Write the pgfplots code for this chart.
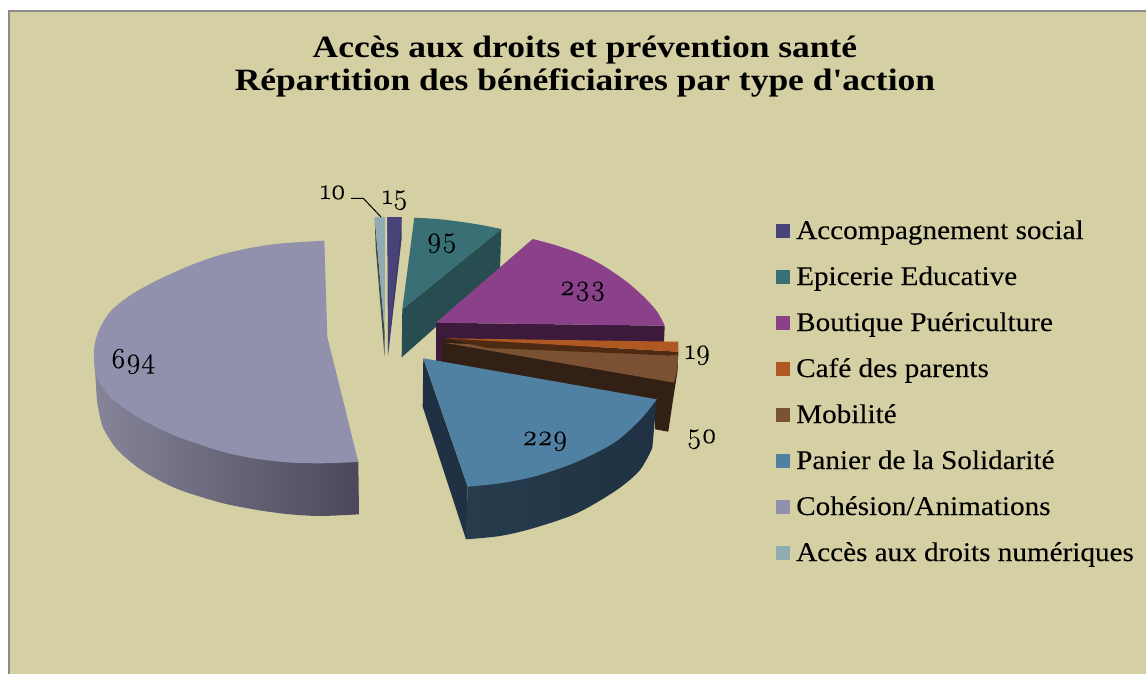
\documentclass[border=0pt]{standalone}
\usepackage{fontspec}
\usepackage{pgfplots}
\pgfplotsset{compat=1.18}
\setmainfont{Liberation Serif}[Ligatures=TeXOff]
\newfontfamily\numf{Latin Modern Roman}[Numbers=OldStyle,FakeBold=0.4]
\newfontfamily\legf{Liberation Serif}[Ligatures=TeXOff,FakeStretch=1.08,FakeBold=0.12]
\newfontfamily\titf{Liberation Serif}[Ligatures=TeXOff,FakeStretch=1.145,BoldFont={Liberation Serif Bold}]
\definecolor{bg}{HTML}{D4D0A4}
\definecolor{frame}{HTML}{8C8C8C}
\definecolor{grayF}{HTML}{9190AD}
\definecolor{grayL}{HTML}{858499}
\definecolor{grayR}{HTML}{4B4859}
\definecolor{blueF}{HTML}{5181A2}
\definecolor{blueD}{HTML}{1F3142}
\definecolor{blueL}{HTML}{263C4C}
\definecolor{tealF}{HTML}{397075}
\definecolor{tealD}{HTML}{284D50}
\definecolor{purpF}{HTML}{8A4189}
\definecolor{purpD}{HTML}{3B1A3B}
\definecolor{oranF}{HTML}{AF5822}
\definecolor{oranD}{HTML}{4F2A12}
\definecolor{browF}{HTML}{7A5233}
\definecolor{browD}{HTML}{312013}
\definecolor{indiF}{HTML}{48447A}
\definecolor{indiD}{HTML}{3F3B6C}
\definecolor{accF}{HTML}{92ABB0}
\definecolor{accD}{HTML}{3E4D4F}
\newcommand\legtxt[2]{\node[anchor=base west,inner sep=0pt,font=\legf\fontsize{27}{30}\selectfont] at (axis cs:796,#1) {#2};}
\newcommand\numtxt[3]{\node[anchor=base,inner sep=0pt,font=\numf\fontsize{29}{32}\selectfont] at (axis cs:#1,#2) {#3};}
\newcommand\legsq[3]{\addplot[fill=#1] coordinates {(776,#2)(790,#2)(790,#3)(776,#3)} --cycle;}
\begin{document}
\begin{tikzpicture}
\begin{axis}[
  width=1146pt,height=674pt,scale only axis,
  xmin=0,xmax=1146,ymin=0,ymax=674,y dir=reverse,
  hide axis,clip=false,
  every axis plot/.append style={draw=none,no markers,line join=round}
]
% page and chart area
\addplot[fill=white] coordinates {(0,0)(1146,0)(1146,674)(0,674)} --cycle;
\addplot[fill=frame] coordinates {(8,10)(1146,10)(1146,674)(8,674)} --cycle;
\addplot[fill=bg] coordinates {(10,12)(1146,12)(1146,674)(10,674)} --cycle;
% Cohesion/Animations 694
\addplot[smooth,left color=grayL,right color=grayR] coordinates {
 (359,514.3)(320,516)(286.7,514)(253.3,509.3)(220,502.5)(180,490)(156.7,479)(136.7,466.7)(116.7,449)(103.3,428.3)(99,412)(96.7,396.7)(94,350)}
 -- (axis cs:300,340) -- (axis cs:358.3,462) --cycle;
\addplot[smooth,fill=grayF] coordinates {
 (324.3,240.7)(280,243.5)(250,248)(220,255)(190,265.5)(156.7,280.5)(130,295.5)(110,312)(98.3,331.7)(94,350)(95,370)(100,383.3)(113.3,400)(140,418.3)(173.3,435)(220,451)(253.3,458.3)(286.7,462.3)(320,463.3)(358.3,462)}
 -- (axis cs:327.3,336.7) --cycle;
% Acces aux droits numeriques 10
\addplot[fill=accD] coordinates {(374.7,218)(375.7,247)(384.5,356)(384.7,332)} --cycle;
\addplot[fill=accF] coordinates {(374.7,217)(385,217)(384.7,332)} --cycle;
% Accompagnement social 15
\addplot[fill=indiD] coordinates {(387.3,217)(401.7,217)(401.5,240)(388,356)} --cycle;
\addplot[fill=indiF] coordinates {(387.3,217)(401.7,217)(389,338)} --cycle;
% Epicerie Educative 95
\addplot[fill=tealD] coordinates {(501.3,229)(500,270)(401.7,357.3)(402.3,309.3)} --cycle;
\addplot[smooth,fill=tealF] coordinates {(414.3,217.7)(437,219)(460,221.7)(481,225)(501.3,229)} -- (axis cs:402.3,309.3) --cycle;
% Boutique Puericulture 233
\addplot[fill=purpD] coordinates {(436,322.7)(664.7,325.7)(664,342)(436,362)} --cycle;
\addplot[smooth,fill=purpF] coordinates {(532.7,239)(555,245)(576.7,252.5)(594,260.5)(610,270)(627,282)(643,296)(656.7,311)(664.7,325.7)} -- (axis cs:436,322.7) --cycle;
% Mobilite 50
\addplot[fill=browD] coordinates {(442.7,338)(678,356)(677.7,370)(673,400)(668.3,431.7)(655,429.3)(655,410)(441.7,362)} --cycle;
\addplot[fill=browF] coordinates {(444,342.7)(678.3,356)(677.3,370)(674,382.7)} --cycle;
% Cafe des parents 19
\addplot[fill=oranD] coordinates {(444,338.3)(678.3,351.7)(678.3,355.7)(488,348)} --cycle;
\addplot[fill=oranF] coordinates {(444,338.3)(678.3,341.7)(678.3,351.7)} --cycle;
% Panier de la Solidarite 229
\addplot[fill=blueD] coordinates {(423.3,358.3)(422.7,406.7)(466,539.3)(467.7,486.7)} --cycle;
\addplot[smooth,left color=blueL,right color=blueD] coordinates {
 (466,539.3)(500,536)(533,528.3)(576.7,513.3)(616.7,490)(640,470)(652.3,448)}
 -- (axis cs:656.7,399.3) -- (axis cs:560,430) -- (axis cs:467.7,486.7) --cycle;
\addplot[smooth,fill=blueF] coordinates {(656.7,399.3)(640,420)(613.3,443.3)(573.3,463.3)(533.3,476.7)(500,483.3)(467.7,486.7)} -- (axis cs:423.3,358.3) --cycle;
% leader line
\addplot[draw=black,line width=1pt] coordinates {(351,198.3)(363.3,198.3)(381,217)};
% legend
\legsq{indiF}{224}{238}
\legsq{tealF}{270}{284}
\legsq{purpF}{316}{330}
\legsq{oranF}{362}{376}
\legsq{browF}{408}{422}
\legsq{blueF}{454}{468}
\legsq{grayF}{500}{514}
\legsq{accF}{546}{560}
\legtxt{239}{Accompagnement social}
\legtxt{285}{Epicerie Educative}
\legtxt{331}{Boutique Puériculture}
\legtxt{377}{Café des parents}
\legtxt{423}{Mobilité}
\legtxt{469}{Panier de la Solidarité}
\legtxt{515}{Cohésion/Animations}
\legtxt{561}{Accès aux droits numériques}
% data labels
\numtxt{133}{368}{694}
\numtxt{333}{199}{10}
\numtxt{395}{204}{15}
\numtxt{441.7}{247}{95}
\numtxt{582.7}{295}{233}
\numtxt{697.7}{359}{19}
\numtxt{545}{445}{229}
\numtxt{701.7}{443}{50}
% title
\node[anchor=base,inner sep=0pt,font=\titf\bfseries\fontsize{31}{34}\selectfont] at (axis cs:585,57.3) {Accès aux droits et prévention santé};
\node[anchor=base,inner sep=0pt,font=\titf\bfseries\fontsize{31}{34}\selectfont] at (axis cs:585,90.7) {Répartition des bénéficiaires par type d'action};
\end{axis}
\end{tikzpicture}
\end{document}
